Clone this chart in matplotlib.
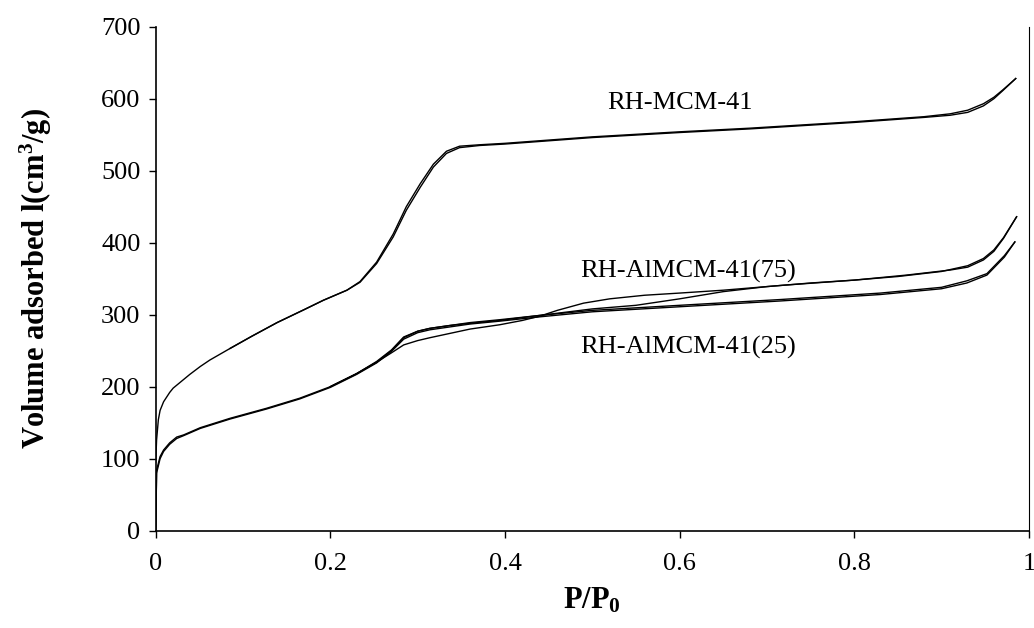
import matplotlib
matplotlib.use("Agg")
import matplotlib.pyplot as plt

# ---- data ----
mcm_ads_x = [0, 0.001, 0.003, 0.005, 0.009, 0.016, 0.02, 0.032, 0.039, 0.051, 0.062, 0.085, 0.11, 0.139, 0.17,
             0.192, 0.219, 0.234, 0.253, 0.272, 0.287, 0.303, 0.318, 0.333, 0.348, 0.371, 0.4, 0.5, 0.6, 0.68,
             0.8, 0.88, 0.91, 0.93, 0.948, 0.96, 0.97, 0.985]
mcm_ads_y = [95, 126, 154, 167, 179, 192, 198, 210, 217, 228, 237, 253, 270, 289, 307,
             320, 334, 345, 371, 408, 445, 477, 505, 524, 532, 535, 537, 546, 553, 558,
             567, 574, 577, 581, 590, 600, 611, 628]
mcm_des_x = [0.985, 0.97, 0.96, 0.948, 0.93, 0.91, 0.88, 0.8, 0.68, 0.6, 0.5, 0.4, 0.371, 0.348, 0.333,
             0.318, 0.303, 0.287, 0.272, 0.253, 0.234, 0.219, 0.192, 0.17, 0.139, 0.11, 0.085]
mcm_des_y = [628, 612, 602, 593, 584, 579, 575, 568, 559, 554, 547, 538, 536, 534, 527,
             509, 482, 450, 412, 373, 346, 334, 320, 307, 289, 270, 253]

al75_ads_x = [0, 0.001, 0.005, 0.009, 0.016, 0.024, 0.032, 0.051, 0.085, 0.127, 0.165, 0.2, 0.23, 0.253,
              0.27, 0.284, 0.3, 0.314, 0.337, 0.36, 0.394, 0.42, 0.44, 0.46, 0.49, 0.52, 0.56, 0.6, 0.65,
              0.72, 0.8, 0.86, 0.91, 0.93, 0.948, 0.96, 0.971, 0.986]
al75_ads_y = [0, 84, 103, 112, 122, 130, 133, 143, 156, 170, 184, 200, 218, 234,
              247, 258, 264, 268, 274, 280, 286, 292, 298, 306, 316, 322, 327, 330, 334,
              341, 348, 355, 362, 366, 376, 388, 406, 436]
al75_des_x = [0.986, 0.971, 0.96, 0.948, 0.93, 0.9, 0.85, 0.8, 0.75, 0.7, 0.65, 0.6, 0.55, 0.5, 0.46,
              0.44, 0.42, 0.394, 0.36, 0.337, 0.314, 0.3, 0.284, 0.27, 0.253, 0.23, 0.2]
al75_des_y = [436, 407, 390, 378, 368, 360, 353, 348, 344, 339, 332, 322, 313, 308, 302,
              299, 296, 292, 288, 285, 281, 277, 269, 251, 235, 218, 200]

al25_ads_x = [0, 0.001, 0.005, 0.009, 0.016, 0.024, 0.032, 0.051, 0.085, 0.127, 0.165, 0.2, 0.23, 0.253,
              0.27, 0.284, 0.3, 0.314, 0.337, 0.36, 0.394, 0.44, 0.5, 0.6, 0.715, 0.83, 0.9, 0.929, 0.952,
              0.972, 0.984]
al25_ads_y = [0, 80, 100, 110, 120, 128, 132, 142, 155, 169, 183, 199, 217, 233,
              249, 266, 275, 279, 283, 287, 291, 297, 304, 311, 319, 328, 336, 344, 355,
              380, 401]
al25_des_x = [0.984, 0.972, 0.952, 0.929, 0.9, 0.83, 0.715, 0.6, 0.5, 0.44, 0.394, 0.36, 0.337, 0.314,
              0.3, 0.284, 0.27, 0.253, 0.23, 0.2]
al25_des_y = [401, 382, 357, 347, 338, 330, 321, 313, 306, 299, 293, 289, 285, 281,
              277, 268, 250, 234, 218, 200]

labels = ["RH-MCM-41", "RH-AlMCM-41(75)", "RH-AlMCM-41(25)"]
xticks = [0, 0.2, 0.4, 0.6, 0.8, 1]
xticklabels = ["0", "0.2", "0.4", "0.6", "0.8", "1"]
yticks = [0, 100, 200, 300, 400, 500, 600, 700]

plt.rcParams['font.family'] = ['Liberation Serif', 'DejaVu Serif']
plt.rcParams['mathtext.fontset'] = 'custom'
plt.rcParams['mathtext.rm'] = 'Liberation Serif'
plt.rcParams['mathtext.bf'] = 'Liberation Serif:bold'
plt.rcParams['mathtext.it'] = 'Liberation Serif:italic'

fig = plt.figure(figsize=(10.34, 6.28), dpi=100)
ax = fig.add_axes([0.1506, 0.155, 0.8444, 0.8025])

lw = 1.0
for xs, ys in [(mcm_ads_x, mcm_ads_y), (mcm_des_x, mcm_des_y),
               (al75_ads_x, al75_ads_y), (al75_des_x, al75_des_y),
               (al25_ads_x, al25_ads_y), (al25_des_x, al25_des_y)]:
    ax.plot(xs, ys, color='black', lw=lw, solid_joinstyle='round')

ax.set_xlim(0, 1)
ax.set_ylim(0, 700)
ax.set_xticks(xticks)
ax.set_xticklabels(xticklabels)
ax.set_yticks(yticks)
ax.tick_params(axis='both', direction='out', length=5, width=1, labelsize=19, pad=6)
ax.tick_params(axis='x', pad=11)

ax.spines['top'].set_visible(False)
for s in ['left', 'bottom']:
    ax.spines[s].set_linewidth(1.2)
ax.spines['right'].set_linewidth(0.8)

ax.set_xlabel(r"P/P$_\mathbf{0}$", fontsize=22, fontweight='bold', labelpad=8)
ax.set_ylabel(r"Volume adsorbed l(cm$^\mathbf{3}$/g)", fontsize=22, fontweight='bold', labelpad=34)

ax.text(0.517, 585, labels[0], fontsize=19, ha='left', va='baseline')
ax.text(0.486, 352, labels[1], fontsize=19, ha='left', va='baseline')
ax.text(0.486, 246, labels[2], fontsize=19, ha='left', va='baseline')

fig.savefig("out.png", dpi=100)
